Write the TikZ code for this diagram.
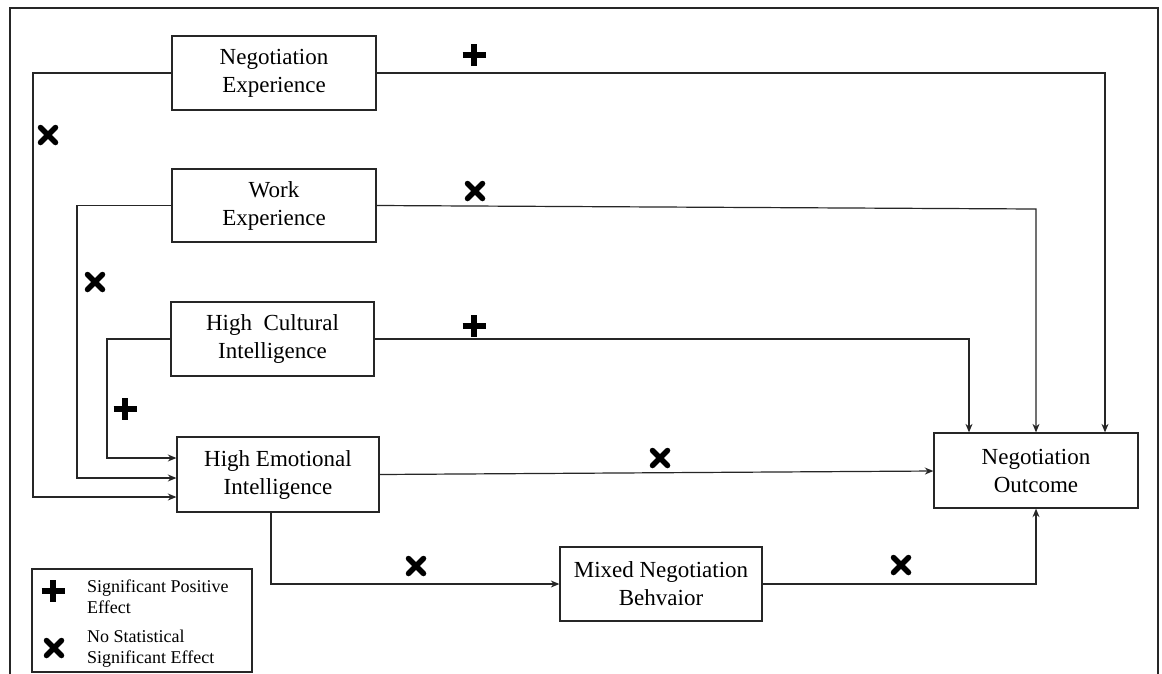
\documentclass[tikz,border=0pt]{standalone}
\usepackage{fontspec}
\setmainfont{Liberation Serif}
\usetikzlibrary{arrows.meta,calc}
\begin{document}
\begin{tikzpicture}[x=1pt,y=-1pt,
  box/.style={draw=black!85,line width=1.3pt,align=center,inner sep=0pt,
    font=\fontsize{23}{28}\selectfont},
  legtext/.style={align=left,inner sep=0pt,anchor=west,font=\fontsize{18}{21}\selectfont},
  conn/.style={draw=black!85,line width=1.2pt},
  arr/.style={conn,-{Stealth[length=8.5pt,width=7pt]}},
  pplus/.pic={\draw[line width=6.5pt] (-11.5,0)--(11.5,0) (0,-11)--(0,11);},
  pcross/.pic={\draw[line width=5.5pt,line cap=round] (-7.5,-7.5)--(7.5,7.5) (-7.5,7.5)--(7.5,-7.5);}
]
\useasboundingbox (0,0) rectangle (1162,673);
\fill[white] (0,0) rectangle (1162,673);
% frame
\draw[draw=black!85,line width=1.3pt] (10,8) rectangle (1158,700);

% boxes
\node[box,minimum width=204pt,minimum height=74pt] (neg) at (274,73) {Negotiation\\Experience};
\node[box,minimum width=204pt,minimum height=73pt] (work) at (274,205.5) {Work\\Experience};
\node[box,minimum width=203pt,minimum height=74pt] (cult) at (272.5,339) {High\ \ Cultural\\Intelligence};
\node[box,minimum width=202pt,minimum height=75pt] (emo) at (278,474.5) {High Emotional\\Intelligence};
\node[box,minimum width=204pt,minimum height=75pt] (out) at (1036,470.5) {Negotiation\\Outcome};
\node[box,minimum width=202pt,minimum height=74pt] (mix) at (661,584) {Mixed Negotiation\\Behvaior};

% helper coordinates
\coordinate (nA) at (33,497);
\coordinate (wA) at (77,478);
\coordinate (cA) at (107,458);
\coordinate (xN) at (1105,0);
\coordinate (wR) at (1036,209);
\coordinate (xC) at (969,0);
\coordinate (yE) at (0,471);
\coordinate (xB) at (271,0);

% left connectors into emotional intelligence
\draw[arr] (neg.west) -| (nA) -- (emo.west |- nA);
\draw[arr] (work.west) -| (wA) -- (emo.west |- wA);
\draw[arr] (cult.west) -| (cA) -- (emo.west |- cA);

% right connectors into outcome
\draw[arr] (neg.east) -| (out.north -| xN);
\draw[arr] (work.east) -- (wR) -- (out.north -| wR);
\draw[arr] (cult.east) -| (out.north -| xC);
\draw[arr] (emo.east) -- (out.west |- yE);

% mediation path
\draw[arr] (emo.south -| xB) |- (mix.west);
\draw[arr] (mix.east) -| (out.south);

% effect marks
\pic at (474,55) {pplus};
\pic at (475,191) {pcross};
\pic at (474,326) {pplus};
\pic at (660,458) {pcross};
\pic at (416,566) {pcross};
\pic at (901,565) {pcross};
\pic at (48,135) {pcross};
\pic at (95,282) {pcross};
\pic at (125,409) {pplus};

% legend
\node[draw=black!85,line width=1.3pt,minimum width=220pt,minimum height=103pt,inner sep=0pt] (leg) at (142,620.5) {};
\pic at (53,591) {pplus};
\pic at (54,648) {pcross};
\node[legtext] (lt1) at (87,597) {Significant Positive\\Effect};
\node[legtext] (lt2) at (87,649) {No Statistical\\Significant Effect};
\end{tikzpicture}
\end{document}
